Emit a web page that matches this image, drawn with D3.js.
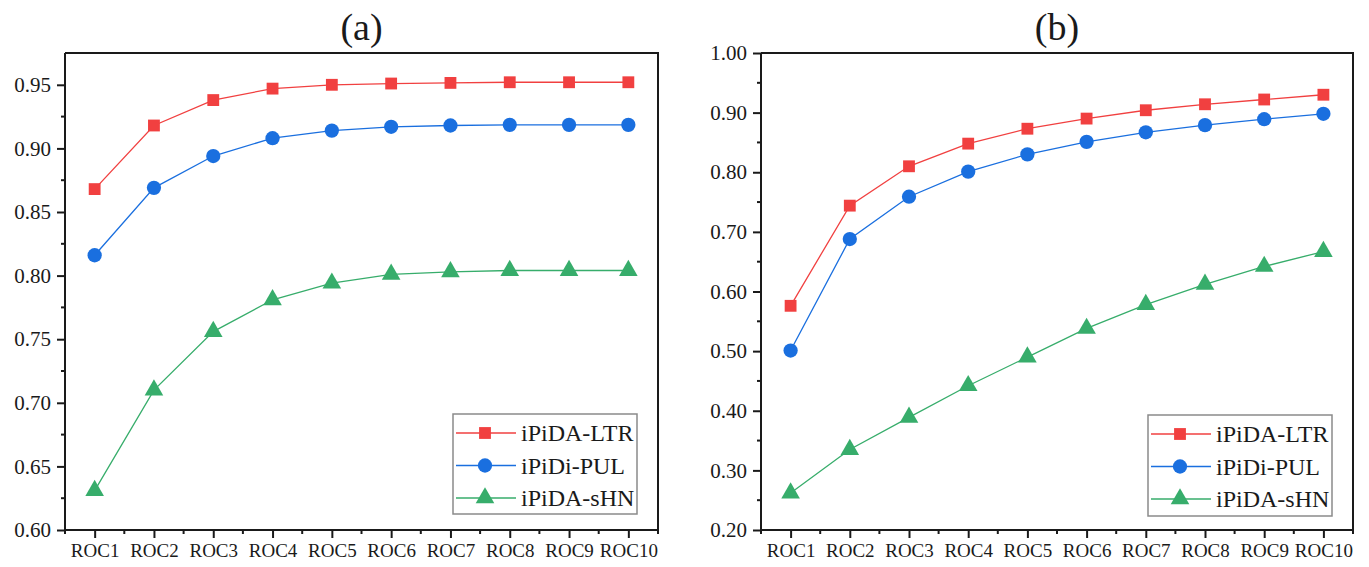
<!DOCTYPE html>
<html>
<head>
<meta charset="utf-8">
<script src="https://cdn.jsdelivr.net/npm/d3@7"></script>
<style>
  html, body { margin: 0; padding: 0; background: #fff; }
  svg { display: block; }
  svg text { font-family: "Liberation Serif", "DejaVu Serif", serif; }
</style>
</head>
<body>
<svg id="chart" width="1369" height="567"></svg>
<script>
// ROC steps on the x axis
const categories = ["ROC1", "ROC2", "ROC3", "ROC4", "ROC5", "ROC6", "ROC7", "ROC8", "ROC9", "ROC10"];
const seriesNames = ["iPiDA-LTR", "iPiDi-PUL", "iPiDA-sHN"];

// Panel (a)
const aLTR = [0.868, 0.918, 0.938, 0.947, 0.950, 0.951, 0.9515, 0.952, 0.952, 0.952];
const aPUL = [0.816, 0.869, 0.894, 0.908, 0.914, 0.917, 0.918, 0.9185, 0.9185, 0.9185];
const aSHN = [0.631, 0.710, 0.756, 0.781, 0.794, 0.801, 0.803, 0.804, 0.804, 0.804];
const aTicks = [0.60, 0.65, 0.70, 0.75, 0.80, 0.85, 0.90, 0.95];

// Panel (b)
const bLTR = [0.576, 0.744, 0.810, 0.848, 0.873, 0.890, 0.904, 0.914, 0.922, 0.930];
const bPUL = [0.501, 0.688, 0.759, 0.801, 0.830, 0.851, 0.867, 0.879, 0.889, 0.898];
const bSHN = [0.262, 0.335, 0.389, 0.442, 0.490, 0.538, 0.578, 0.612, 0.642, 0.667];
const bTicks = [0.20, 0.30, 0.40, 0.50, 0.60, 0.70, 0.80, 0.90, 1.00];

const colors = ["#F14040", "#1A6FDF", "#37AD6B"];
const symbols = [d3.symbolSquare, d3.symbolCircle, d3.symbolTriangle];
const symbolSizes = [140, 160, 150];

const svg = d3.select("#chart");

function drawPanel(cfg) {
  const { left, right, top, bottom, domain, ticks, minorStep, fmt, title, series, legend } = cfg;
  const g = svg.append("g");

  const x = d3.scalePoint().domain(categories).range([left, right]).padding(0.5);
  const y = d3.scaleLinear().domain(domain).range([bottom, top]);

  // frame top and right
  g.append("path")
    .attr("d", `M${left},${top}H${right}V${bottom}`)
    .attr("fill", "none").attr("stroke", "#1a1a1a").attr("stroke-width", 2);

  // minor y ticks
  const minorY = d3.range(domain[0] + minorStep, domain[1] + 1e-9, minorStep * 2)
    .filter(v => v < domain[1] - 1e-9);
  g.append("g").selectAll("line").data(minorY).join("line")
    .attr("x1", left - 4).attr("x2", left)
    .attr("y1", d => y(d)).attr("y2", d => y(d))
    .attr("stroke", "#1a1a1a").attr("stroke-width", 2);

  // y axis
  const yAxis = g.append("g").attr("transform", `translate(${left},0)`)
    .call(d3.axisLeft(y).tickValues(ticks).tickFormat(fmt).tickSize(8).tickPadding(6));
  yAxis.attr("font-family", null).attr("font-size", null);
  yAxis.select(".domain").attr("stroke", "#1a1a1a").attr("stroke-width", 2)
    .attr("d", `M0,${top}V${bottom}`);
  yAxis.selectAll(".tick line").attr("stroke", "#1a1a1a").attr("stroke-width", 2);
  yAxis.selectAll(".tick text")
    .style("font-family", "'Liberation Serif', serif").style("font-size", "21px")
    .attr("fill", "#1a1a1a");

  // minor x ticks at category boundaries
  const step = x.step();
  const minorX = d3.range(categories.length + 1).map(i => left + i * step);
  g.append("g").selectAll("line").data(minorX).join("line")
    .attr("x1", d => d).attr("x2", d => d)
    .attr("y1", bottom).attr("y2", bottom + 4)
    .attr("stroke", "#1a1a1a").attr("stroke-width", 2);

  // x axis
  const xAxis = g.append("g").attr("transform", `translate(0,${bottom})`)
    .call(d3.axisBottom(x).tickSize(8).tickPadding(6));
  xAxis.attr("font-family", null).attr("font-size", null);
  xAxis.select(".domain").attr("stroke", "#1a1a1a").attr("stroke-width", 2)
    .attr("d", `M${left},0H${right}`);
  xAxis.selectAll(".tick line").attr("stroke", "#1a1a1a").attr("stroke-width", 2);
  xAxis.selectAll(".tick text")
    .style("font-family", "'Liberation Serif', serif").style("font-size", "19px")
    .attr("fill", "#1a1a1a");

  // series lines and markers
  const line = d3.line().x((d, i) => x(categories[i])).y(d => y(d));
  series.forEach((vals, k) => {
    g.append("path").datum(vals)
      .attr("d", line).attr("fill", "none")
      .attr("stroke", colors[k]).attr("stroke-width", 1.3);
    g.append("g").selectAll("path").data(vals).join("path")
      .attr("transform", (d, i) => `translate(${x(categories[i])},${y(d)})`)
      .attr("d", d3.symbol().type(symbols[k]).size(symbolSizes[k]))
      .attr("fill", colors[k]);
  });

  // title
  g.append("text")
    .attr("x", (left + right) / 2).attr("y", 40)
    .attr("text-anchor", "middle").attr("font-size", 38).attr("fill", "#1a1a1a")
    .text(title);

  // legend
  const lg = g.append("g");
  lg.append("rect")
    .attr("x", legend.x).attr("y", legend.y).attr("width", legend.w).attr("height", legend.h)
    .attr("fill", "#fff").attr("stroke", "#8a8a8a").attr("stroke-width", 1.5);
  seriesNames.forEach((name, k) => {
    const cy = legend.y + 19 + k * 32.5;
    lg.append("line")
      .attr("x1", legend.x + 3).attr("x2", legend.x + 63)
      .attr("y1", cy).attr("y2", cy)
      .attr("stroke", colors[k]).attr("stroke-width", 1.5);
    lg.append("path")
      .attr("transform", `translate(${legend.x + 32},${cy})`)
      .attr("d", d3.symbol().type(symbols[k]).size(symbolSizes[k]))
      .attr("fill", colors[k]);
    lg.append("text")
      .attr("x", legend.x + 68).attr("y", cy + 8)
      .attr("font-size", 24).attr("fill", "#1a1a1a")
      .text(name);
  });
}

drawPanel({
  left: 65, right: 658, top: 53, bottom: 530,
  domain: [0.60, 0.975], ticks: aTicks, minorStep: 0.025,
  fmt: d3.format(".2f"), title: "(a)",
  series: [aLTR, aPUL, aSHN],
  legend: { x: 453, y: 414, w: 184, h: 100 }
});

drawPanel({
  left: 761, right: 1353, top: 53, bottom: 530,
  domain: [0.20, 1.00], ticks: bTicks, minorStep: 0.05,
  fmt: d3.format(".2f"), title: "(b)",
  series: [bLTR, bPUL, bSHN],
  legend: { x: 1148, y: 415, w: 184, h: 101 }
});
</script>
</body>
</html>
